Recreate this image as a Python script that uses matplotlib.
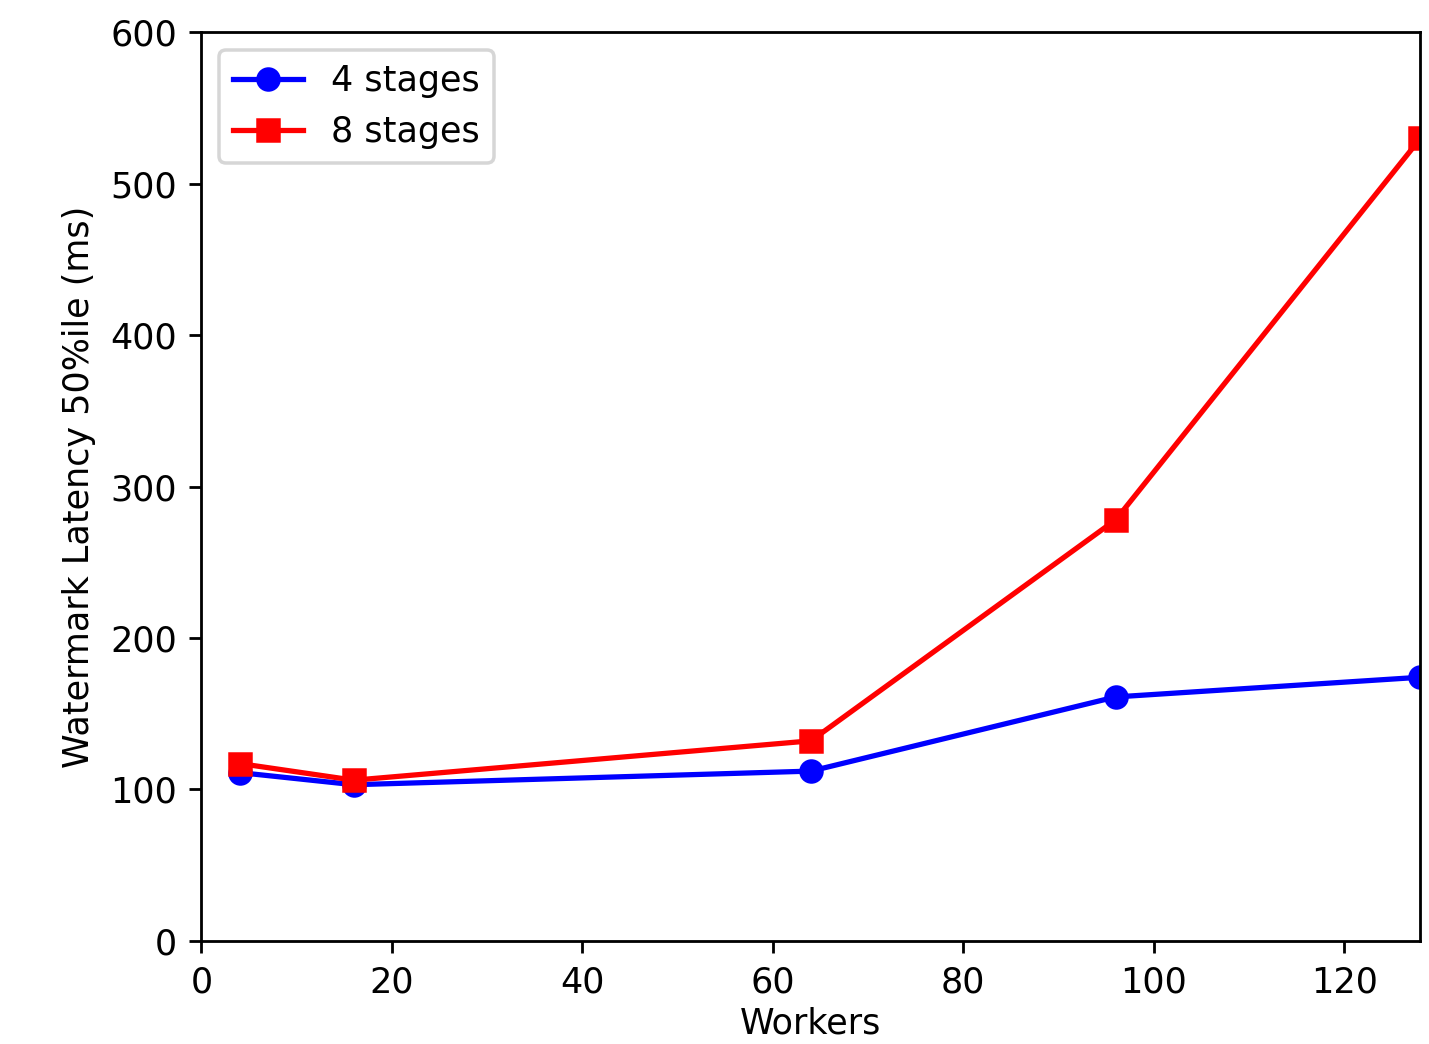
import matplotlib
matplotlib.use("Agg")
import matplotlib.pyplot as plt

# workers vs median watermark latency
workers = [4, 16, 64, 96, 128]
lat_4stages = [111, 103, 112, 161, 174]
lat_8stages = [117, 106, 132, 278, 530]

dpi = 252
fig = plt.figure(figsize=(1429 / dpi, 1044 / dpi), dpi=dpi)
ax = fig.add_axes([0.141, 0.099, 0.853, 0.870])

ax.plot(workers, lat_4stages, 'b-o', label='4 stages')
ax.plot(workers, lat_8stages, 'r-s', label='8 stages')

ax.set_xlim(0, 128)
ax.set_ylim(0, 600)
ax.set_xlabel('Workers', labelpad=2)
ax.set_ylabel('Watermark Latency 50%ile (ms)')
ax.legend(loc='upper left')

fig.savefig('out.png', dpi=dpi)
